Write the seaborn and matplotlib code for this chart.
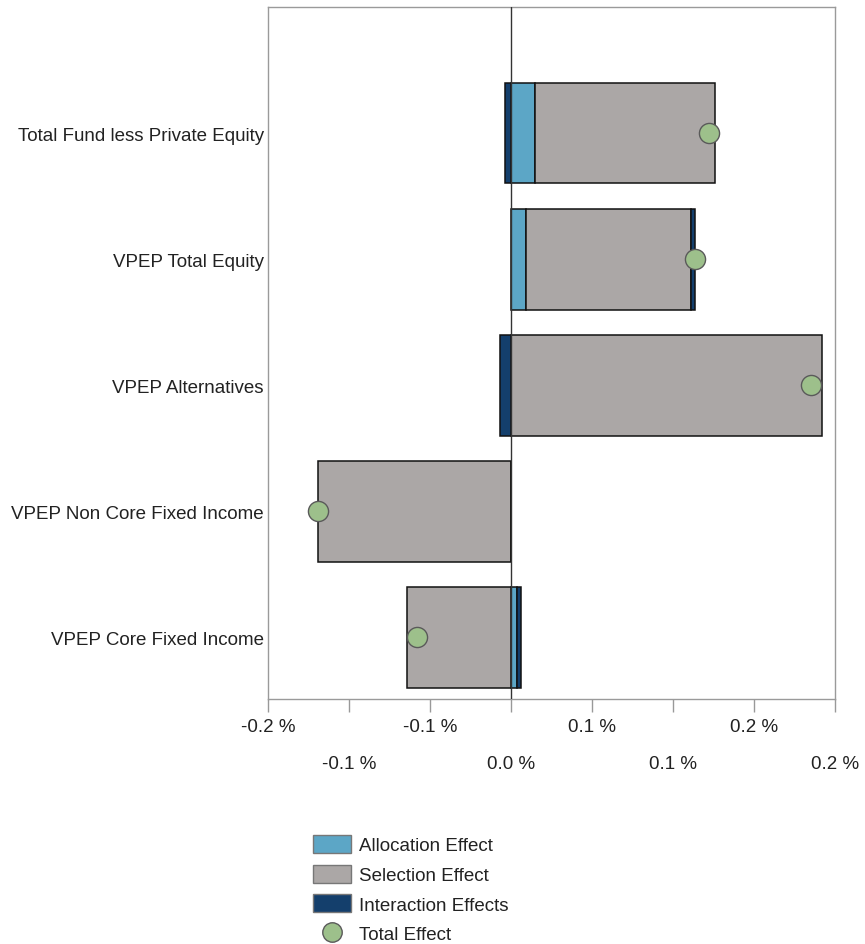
import matplotlib
matplotlib.use("Agg")
import matplotlib.pyplot as plt
from matplotlib.patches import Patch
from matplotlib.lines import Line2D
from matplotlib.ticker import FixedLocator, FixedFormatter
import numpy as np
import pandas as pd
import seaborn as sns

# Attribution effects (in %)
categories = [
    "Total Fund less Private Equity",
    "VPEP Total Equity",
    "VPEP Alternatives",
    "VPEP Non Core Fixed Income",
    "VPEP Core Fixed Income",
]
allocation = [0.015, 0.009, 0.0, 0.0, 0.004]
selection = [0.111, 0.102, 0.192, -0.119, -0.064]
interaction = [-0.004, 0.0025, -0.007, 0.0, 0.002]
total_effect = [0.122, 0.1135, 0.185, -0.119, -0.058]

# Axis ticks: two staggered label rows
row1_ticks = [-0.15, -0.05, 0.05, 0.15]
row1_labels = ["-0.2 %", "-0.1 %", "0.1 %", "0.2 %"]
row2_ticks = [-0.10, 0.0, 0.10, 0.20]
row2_labels = ["-0.1 %", "0.0 %", "0.1 %", "0.2 %"]

series_names = ["Allocation Effect", "Selection Effect", "Interaction Effects"]
series_colors = ["#5ca6c6", "#aba7a6", "#143f6c"]
dot_color = "#9dc08b"

sns.set_theme(style="white")
plt.rcParams["font.family"] = ["Liberation Sans", "DejaVu Sans"]
text_color = "#222222"
fs = 13.5

fig = plt.figure(figsize=(8.65, 9.45), dpi=100)
ax = fig.add_axes([268 / 865, 1 - 700 / 945, (835 - 268) / 865, (700 - 8) / 945])

ypos = np.arange(len(categories))
pos_base = np.zeros(len(categories))
neg_base = np.zeros(len(categories))
for name, vals, color in zip(series_names, [allocation, selection, interaction], series_colors):
    vals = np.asarray(vals, dtype=float)
    left = np.where(vals >= 0, pos_base, neg_base)
    ax.barh(ypos, vals, left=left, height=0.8, color=color,
            edgecolor="#111111", linewidth=1.1, zorder=2)
    pos_base = pos_base + np.where(vals > 0, vals, 0)
    neg_base = neg_base + np.where(vals < 0, vals, 0)

ax.axvline(0, color="#333333", linewidth=1.0, zorder=3)

df_tot = pd.DataFrame({"category": categories, "total": total_effect, "pos": ypos})
sns.scatterplot(data=df_tot, x="total", y="pos", ax=ax, s=210, color=dot_color,
                edgecolor="#5a5a5a", linewidth=1.0, zorder=4, legend=False)

ax.set_xlim(-0.15, 0.20)
ax.set_ylim(4.49, -1.0)
ax.set_yticks(ypos)
ax.set_yticklabels(categories, fontsize=fs, color=text_color)
ax.set_xlabel("")
ax.set_ylabel("")

ax.xaxis.set_major_locator(FixedLocator(row1_ticks))
ax.xaxis.set_major_formatter(FixedFormatter(row1_labels))
ax.xaxis.set_minor_locator(FixedLocator(row2_ticks))
ax.xaxis.set_minor_formatter(FixedFormatter(row2_labels))
ax.tick_params(axis="x", which="major", bottom=True, length=9, width=1, color="#999999",
               labelsize=fs, labelcolor=text_color, pad=4.5, direction="out")
ax.tick_params(axis="x", which="minor", bottom=True, length=9, width=1, color="#999999",
               labelsize=fs, labelcolor=text_color, pad=31, direction="out")
ax.tick_params(axis="y", which="both", left=False, length=0, pad=3)

for sp in ax.spines.values():
    sp.set_color("#9a9a9a")
    sp.set_linewidth(1.0)

handles = [Patch(facecolor=c, edgecolor="#777777", linewidth=1.0) for c in series_colors]
handles.append(Line2D([], [], linestyle="none", marker="o", markersize=14,
                      markerfacecolor=dot_color, markeredgecolor="#5a5a5a", markeredgewidth=1.0))
labels = series_names + ["Total Effect"]
fig.legend(handles, labels, loc="upper left", bbox_to_anchor=(313 / 865, 1 - 836 / 945),
           frameon=False, fontsize=fs, handlelength=2.03, handleheight=1.12,
           labelspacing=0.54, handletextpad=0.43, borderpad=0, borderaxespad=0,
           labelcolor=text_color)

fig.savefig("out.png", dpi=100)
